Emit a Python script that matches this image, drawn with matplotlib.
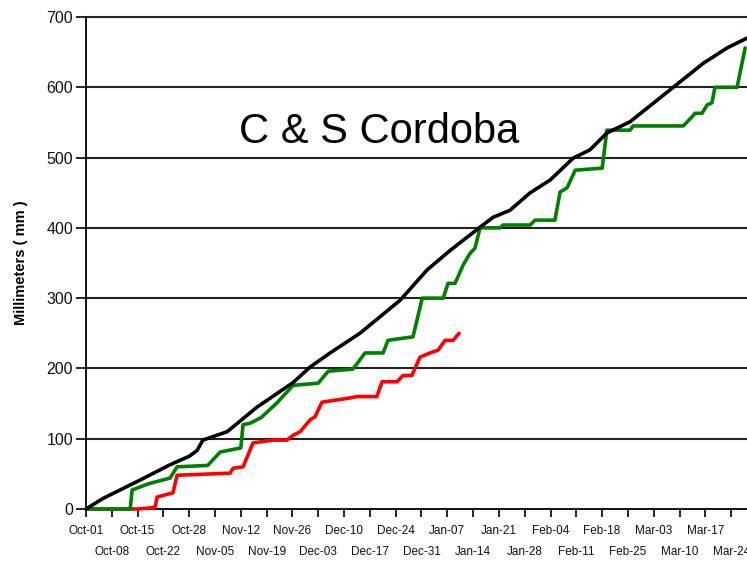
import matplotlib
matplotlib.use("Agg")
import matplotlib.pyplot as plt

# day 0 = Oct-01
normal_days = [0, 4.6, 14.6, 22.8, 28.0, 30.1, 31.7, 38.3, 46.4, 56.2, 60.8, 66.2, 74.3,
               85.2, 92.5, 98.8, 106.9, 110.4, 115.0, 120.5, 125.9, 132.1, 136.7,
               141.3, 147.6, 159.3, 167.4, 173.9, 179.3]
normal_mm = [0, 15, 41, 63, 75, 83, 98, 110, 145, 180, 202, 222, 250,
             297, 340, 368, 401, 415, 425, 450, 468, 499, 511,
             535, 551, 600, 634, 656, 670]

last_days = [0, 12.0, 12.5, 17.0, 22.8, 24.7, 33.0, 36.4, 42.0, 42.6, 44.5, 47.5,
             51.8, 56.2, 63.0, 65.7, 72.4, 75.7, 80.6, 81.9, 88.7, 91.2, 96.9,
             98.2, 100.1, 102.3, 104.2, 105.5, 106.9, 112.3, 113.1, 120.5, 121.8,
             127.2, 128.6, 130.5, 132.7, 140.0, 141.3, 147.6, 148.4, 162.0, 164.4,
             165.2, 167.1, 168.5, 169.8, 170.6, 176.6, 178.8]
last_mm = [0, 0, 27, 36, 44, 60, 62, 81, 87, 120, 122, 130,
           151, 176, 179, 196, 199, 222, 222, 240, 245, 300, 300,
           321, 321, 347, 364, 371, 400, 400, 404, 404, 411,
           411, 451, 457, 482, 485, 539, 539, 545, 545, 558,
           563, 563, 575, 578, 600, 600, 656]

this_days = [0, 13.8, 18.7, 19.3, 23.6, 24.7, 39.1, 39.9, 42.6, 45.3, 50.7, 54.5,
             56.2, 58.1, 60.8, 62.1, 64.0, 71.6, 73.5, 78.9, 80.3, 84.4, 86.0,
             88.4, 90.6, 93.3, 95.5, 97.4, 99.6, 101.2]
this_mm = [0, 0, 2, 17, 23, 48, 51, 58, 60, 94, 98, 98,
           105, 110, 127, 131, 152, 158, 160, 160, 181, 181, 190,
           190, 216, 222, 226, 240, 240, 250]

tick_labels = ["Oct-01", "Oct-08", "Oct-15", "Oct-22", "Oct-28", "Nov-05", "Nov-12",
               "Nov-19", "Nov-26", "Dec-03", "Dec-10", "Dec-17", "Dec-24", "Dec-31",
               "Jan-07", "Jan-14", "Jan-21", "Jan-28", "Feb-04", "Feb-11", "Feb-18",
               "Feb-25", "Mar-03", "Mar-10", "Mar-17", "Mar-24"]
y_ticks = [0, 100, 200, 300, 400, 500, 600, 700]

plt.rcParams["font.family"] = ["Liberation Sans", "DejaVu Sans"]

fig = plt.figure(figsize=(7.47, 5.61), dpi=100)
ax = fig.add_axes([86 / 747, 1 - 509 / 561, 1 - 86 / 747, (509 - 17) / 561])

ax.plot(this_days, this_mm, color="#ff0000", lw=2.6, solid_capstyle="round", zorder=3, clip_on=False)
ax.plot(last_days, last_mm, color="#008000", lw=2.6, solid_capstyle="round", zorder=3.1, clip_on=False)
ax.plot(normal_days, normal_mm, color="black", lw=2.6, solid_capstyle="round", zorder=3.2, clip_on=False)

ax.set_xlim(0, 179.3)
ax.set_ylim(0, 700)

ax.set_yticks(y_ticks)
ax.set_yticklabels([str(v) for v in y_ticks], fontsize=11.5, color="#111111")
for v in y_ticks[1:]:
    ax.axhline(v, color="#222222", lw=1.5, zorder=0, clip_on=False)

pos = [7 * i for i in range(len(tick_labels))]
ax.set_xticks(pos[0::2])
ax.set_xticklabels(tick_labels[0::2], fontsize=8.5, color="#111111")
ax.set_xticks(pos[1::2], minor=True)
ax.set_xticklabels(tick_labels[1::2], minor=True, fontsize=8.5, color="#111111")
ax.tick_params(axis="x", which="major", length=5.8, width=1.2, pad=5.5)
ax.tick_params(axis="x", which="minor", length=5.8, width=1.2, pad=21)
ax.tick_params(axis="y", length=7.2, width=1.2, pad=2)

for side in ["right", "top"]:
    ax.spines[side].set_visible(False)
ax.spines["left"].set_linewidth(1.3)
ax.spines["bottom"].set_linewidth(1.3)

ax.set_ylabel("Millimeters ( mm )", fontsize=10.5, fontweight="bold", labelpad=13)

fig.text(0.508, 1 - 143 / 561, "C & S Cordoba", fontsize=30, ha="center", va="baseline")

fig.savefig("out.png", dpi=100)
